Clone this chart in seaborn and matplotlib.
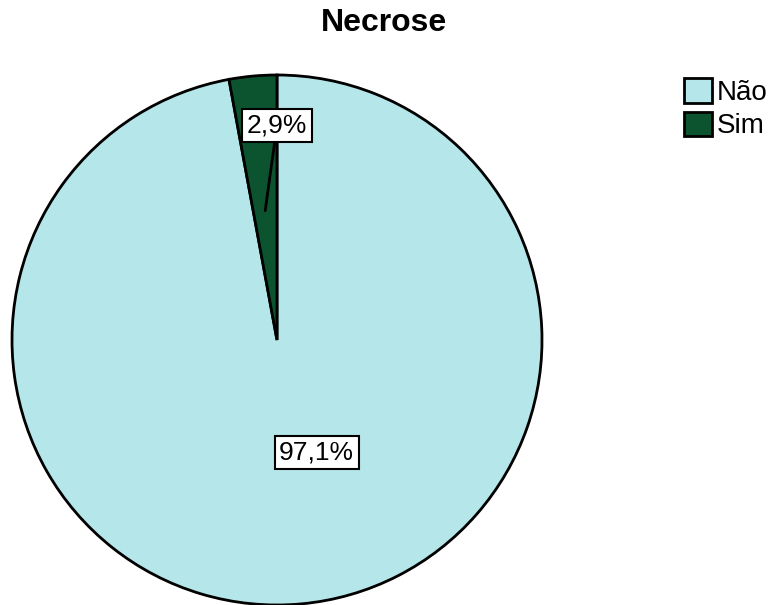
import numpy as np
import matplotlib
matplotlib.use("Agg")
import matplotlib.pyplot as plt
import seaborn as sns

categories = ["Não", "Sim"]
values = [97.1, 2.9]
pct_labels = ["97,1%", "2,9%"]
colors = ["#b5e6e9", "#0c5430"]

sns.set_theme(style="white")
plt.rcParams["font.family"] = ["Liberation Sans", "DejaVu Sans"]
plt.rcParams["text.color"] = "black"

fig = plt.figure(figsize=(7.75, 6.05), dpi=100)
ax = fig.add_axes([12 / 775, 0, 530 / 775, 530 / 605])

wedges, _ = ax.pie(values, colors=colors, startangle=90, counterclock=False,
                   wedgeprops=dict(edgecolor="black", linewidth=2))
for w in wedges:
    w.set_clip_on(False)
ax.set_xlim(-1, 1)
ax.set_ylim(-1, 1)
ax.set_aspect("equal")
ax.axis("off")

box = dict(boxstyle="square,pad=0.17", facecolor="white", edgecolor="black", linewidth=1.5)

# small slice: label above, leader line into the wedge
sim = wedges[1]
mid = np.deg2rad((sim.theta1 + sim.theta2) / 2)
ax.annotate(pct_labels[1], xy=(0.49 * np.cos(mid), 0.49 * np.sin(mid)), xytext=(0, 0.81),
            ha="center", va="center", fontsize=19, bbox=box,
            arrowprops=dict(arrowstyle="-", color="black", lw=2, shrinkA=0, shrinkB=0))

# big slice label
ax.text(0.15, -0.423, pct_labels[0], ha="center", va="center", fontsize=19, bbox=box)

fig.text(384 / 775, 1 - 23 / 605, "Necrose", ha="center", va="center",
         fontsize=23, fontweight="bold")

fig.legend(wedges, categories, loc="upper left", bbox_to_anchor=(684 / 775, 1 - 78 / 605),
           frameon=False, fontsize=20, borderpad=0, borderaxespad=0,
           handlelength=1.0, handleheight=1.0, handletextpad=0.18, labelspacing=0.2)

fig.savefig("out.png", dpi=100)
